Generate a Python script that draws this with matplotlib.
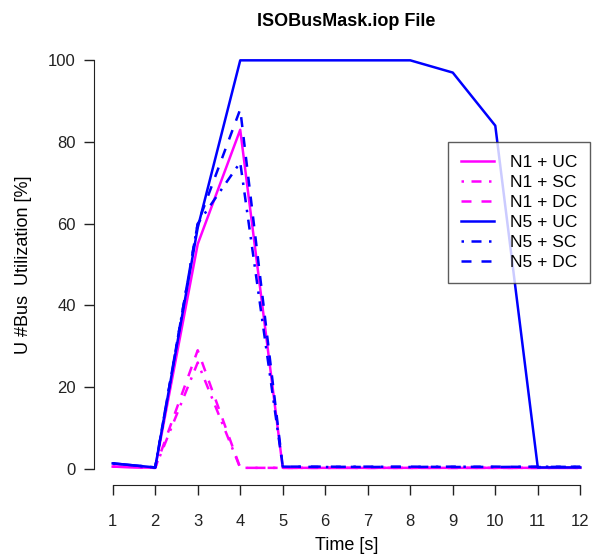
import matplotlib
matplotlib.use("Agg")
import matplotlib.pyplot as plt

plt.rcParams['font.family'] = ['Liberation Sans', 'DejaVu Sans']

time_s = [1, 2, 3, 4, 5, 6, 7, 8, 9, 10, 11, 12]

n1_uc = [0.5, 0.2, 55, 83, 0.2, 0.2, 0.2, 0.2, 0.2, 0.2, 0.2, 0.2]
n1_sc = [0.5, 0.2, 26, 0.2, 0.2, 0.2, 0.2, 0.2, 0.2, 0.2, 0.2, 0.2]
n1_dc = [0.5, 0.2, 29, 0.2, 0.2, 0.2, 0.2, 0.2, 0.2, 0.2, 0.2, 0.2]
n5_uc = [1.3, 0.3, 59, 100, 100, 100, 100, 100, 97, 84, 0.3, 0.3]
n5_sc = [1.3, 0.3, 60, 75, 0.5, 0.4, 0.5, 0.4, 0.5, 0.4, 0.5, 0.4]
n5_dc = [1.3, 0.3, 60, 88, 0.5, 0.5, 0.4, 0.5, 0.4, 0.5, 0.4, 0.5]

series = [
    ("N1 + UC", n1_uc, "#ff00ff", "-"),
    ("N1 + SC", n1_sc, "#ff00ff", (0, (1, 3, 4, 3))),
    ("N1 + DC", n1_dc, "#ff00ff", (0, (4, 4))),
    ("N5 + UC", n5_uc, "#0000ff", "-"),
    ("N5 + SC", n5_sc, "#0000ff", (0, (1, 3, 4, 3))),
    ("N5 + DC", n5_dc, "#0000ff", (0, (4, 4))),
]

fig = plt.figure(figsize=(6.04, 5.57), dpi=100)
ax = fig.add_axes([94 / 604, 1 - 485 / 557, (599 - 94) / 604, (485 - 44) / 557])

for label, vals, col, ls in series:
    ax.plot(time_s, vals, color=col, linestyle=ls, linewidth=1.8, label=label)

ax.set_xlim(1 - 0.44, 12 + 0.44)
ax.set_ylim(-4, 104)
ax.set_xticks(time_s)
ax.set_yticks([0, 20, 40, 60, 80, 100])

for s in ["top", "right"]:
    ax.spines[s].set_visible(False)
ax.spines["left"].set_bounds(0, 100)
ax.spines["bottom"].set_bounds(1, 12)
ax.spines["left"].set_color("#222222")
ax.spines["bottom"].set_color("#222222")
ax.tick_params(direction="out", length=7, width=1, colors="#222222",
               labelsize=12, pad=6)
ax.tick_params(axis="x", pad=14)

ax.set_xlabel("Time [s]", fontsize=13, labelpad=6)
ax.set_ylabel("U #Bus  Utilization [%]", fontsize=13, labelpad=12)
ax.set_title("ISOBusMask.iop File", fontsize=13, fontweight="bold", pad=13)

leg = ax.legend(loc="upper right", bbox_to_anchor=(0.982, 0.778), fontsize=12.5,
                frameon=True, fancybox=False, edgecolor="#333333",
                handlelength=1.9, labelspacing=0.28, borderpad=0.75,
                handletextpad=0.9, borderaxespad=0)
leg.get_frame().set_linewidth(1.0)

fig.savefig("out.png", dpi=100)
